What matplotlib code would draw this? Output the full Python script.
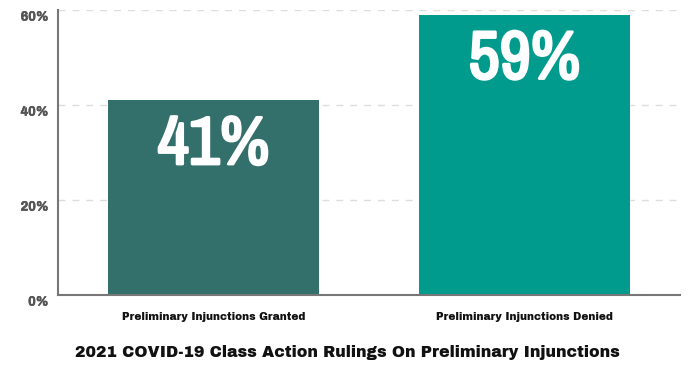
import matplotlib
matplotlib.use("Agg")
import matplotlib.pyplot as plt
import matplotlib.transforms as mtrans
import matplotlib.patheffects as pe
from matplotlib import font_manager

categories = ["Preliminary Injunctions Granted", "Preliminary Injunctions Denied"]
values = [41, 59]
value_labels = ["41%", "59%"]
yticks = [0, 20, 40, 60]
ytick_labels = ["0%", "20%", "40%", "60%"]
title = "2021 COVID-19 Class Action Rulings On Preliminary Injunctions"
colors = ["#336f6b", "#009b8d"]

names = {f.name for f in font_manager.fontManager.ttflist}
def pick(*cands):
    for c in cands:
        if c in names:
            return c
    return "DejaVu Sans"

big_font = pick("Archivo Narrow", "Asap Condensed", "Liberation Sans")
text_font = pick("Archivo", "Lato")
heavy_font = pick("Archivo Black", "Lato")

fig = plt.figure(figsize=(6.96, 3.81), dpi=100)
ax = fig.add_axes([58/696, 1 - 295/381, (680-58)/696, (295-10)/381])

x = list(range(len(categories)))
bars = ax.bar(x, values, width=0.677, color=colors, zorder=2)
ax.set_xlim(-0.5, 1.5)
ax.set_ylim(0, 60)
ax.set_yticks(yticks)
ax.set_yticklabels(ytick_labels, fontfamily=text_font, fontweight="bold", fontsize=9.5, color="#555555")
ax.yaxis.grid(True, linestyle=(0, (5, 5)), color="#dddddd", linewidth=1, zorder=0)
ax.set_xticks(x)
ax.set_xticklabels(categories, fontfamily=heavy_font, fontsize=7.6, color="#111111")
ax.tick_params(axis="x", length=0, pad=12)
ax.tick_params(axis="y", length=0, pad=7)
for lbl in ax.get_yticklabels():
    lbl.set_transform(lbl.get_transform() + mtrans.ScaledTranslation(0, -6/100, fig.dpi_scale_trans))
    lbl.set_path_effects([pe.withStroke(linewidth=0.5, foreground="#555555")])
for s in ["top", "right"]:
    ax.spines[s].set_visible(False)
for s in ["left", "bottom"]:
    ax.spines[s].set_color("#777777")
    ax.spines[s].set_linewidth(1.5)

for xi, v, lab in zip(x, values, value_labels):
    ax.text(xi, v - 2.9, lab, ha="center", va="top", color="white",
            fontfamily=big_font, fontweight="bold", fontsize=49, zorder=3,
            path_effects=[pe.withStroke(linewidth=2.0, foreground="white")])

fig.text(347/696, 1 - 352/381, title, ha="center", va="center",
         fontfamily=heavy_font, fontsize=11.3, color="#111111")

fig.savefig("out.png", dpi=100, facecolor="white")
